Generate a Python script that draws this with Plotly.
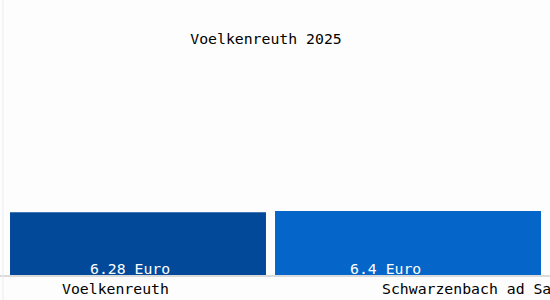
import plotly.graph_objects as go

title = "Voelkenreuth 2025"
categories = ["Voelkenreuth", "Schwarzenbach ad Saale"]
values = [6.28, 6.4]
unit = "Euro"
bar_colors = ["#03499a", "#0565c8"]

FONT = "DejaVu Sans Mono"
FS = 14.8

fig = go.Figure()
fig.add_trace(go.Bar(
    x=list(range(len(categories))),
    y=values,
    width=[0.948, 0.985],
    marker=dict(color=bar_colors, line=dict(width=0)),
    hoverinfo="skip",
))

# value labels inside bars
label_xshift = [-8, -23]
for i, v in enumerate(values):
    fig.add_annotation(
        x=i, y=0, xref="x", yref="y",
        text=f"{v:g} {unit}", showarrow=False,
        xanchor="center", yanchor="middle",
        xshift=label_xshift[i], yshift=7,
        font=dict(family=FONT, size=FS, color="white"),
    )

# category labels under axis
tick_xshift = [-78, -28]
for i, c in enumerate(categories):
    fig.add_annotation(
        x=i, y=0, xref="x", yref="paper",
        text=c, showarrow=False,
        xanchor="left", yanchor="middle",
        xshift=tick_xshift[i], yshift=-13,
        font=dict(family=FONT, size=FS, color="black"),
    )

# axis line across the full width
fig.add_shape(type="line", xref="paper", yref="paper",
              x0=-3/540, x1=1 + 7/540, y0=-1/215, y1=-1/215,
              line=dict(color="#b8b8b8", width=1))
# faint left border
fig.add_shape(type="line", xref="paper", yref="paper",
              x0=0, x1=0, y0=-25/215, y1=1 + 60/215,
              line=dict(color="#ececec", width=1))

fig.update_layout(
    width=550, height=300,
    margin=dict(l=3, r=7, t=60, b=25),
    paper_bgcolor="#fdfdfd", plot_bgcolor="#fdfdfd",
    showlegend=False,
    bargap=0.03,
    title=dict(text=title, x=266/550, xanchor="center", y=1 - 39/300, yanchor="middle",
               font=dict(family=FONT, size=FS, color="black")),
    xaxis=dict(range=[-0.5, 1.5], showticklabels=False, showgrid=False,
               zeroline=False, showline=False, fixedrange=True),
    yaxis=dict(range=[0, 21.5], showticklabels=False, showgrid=False,
               zeroline=False, showline=False, fixedrange=True),
)

fig.write_html("out.html")
